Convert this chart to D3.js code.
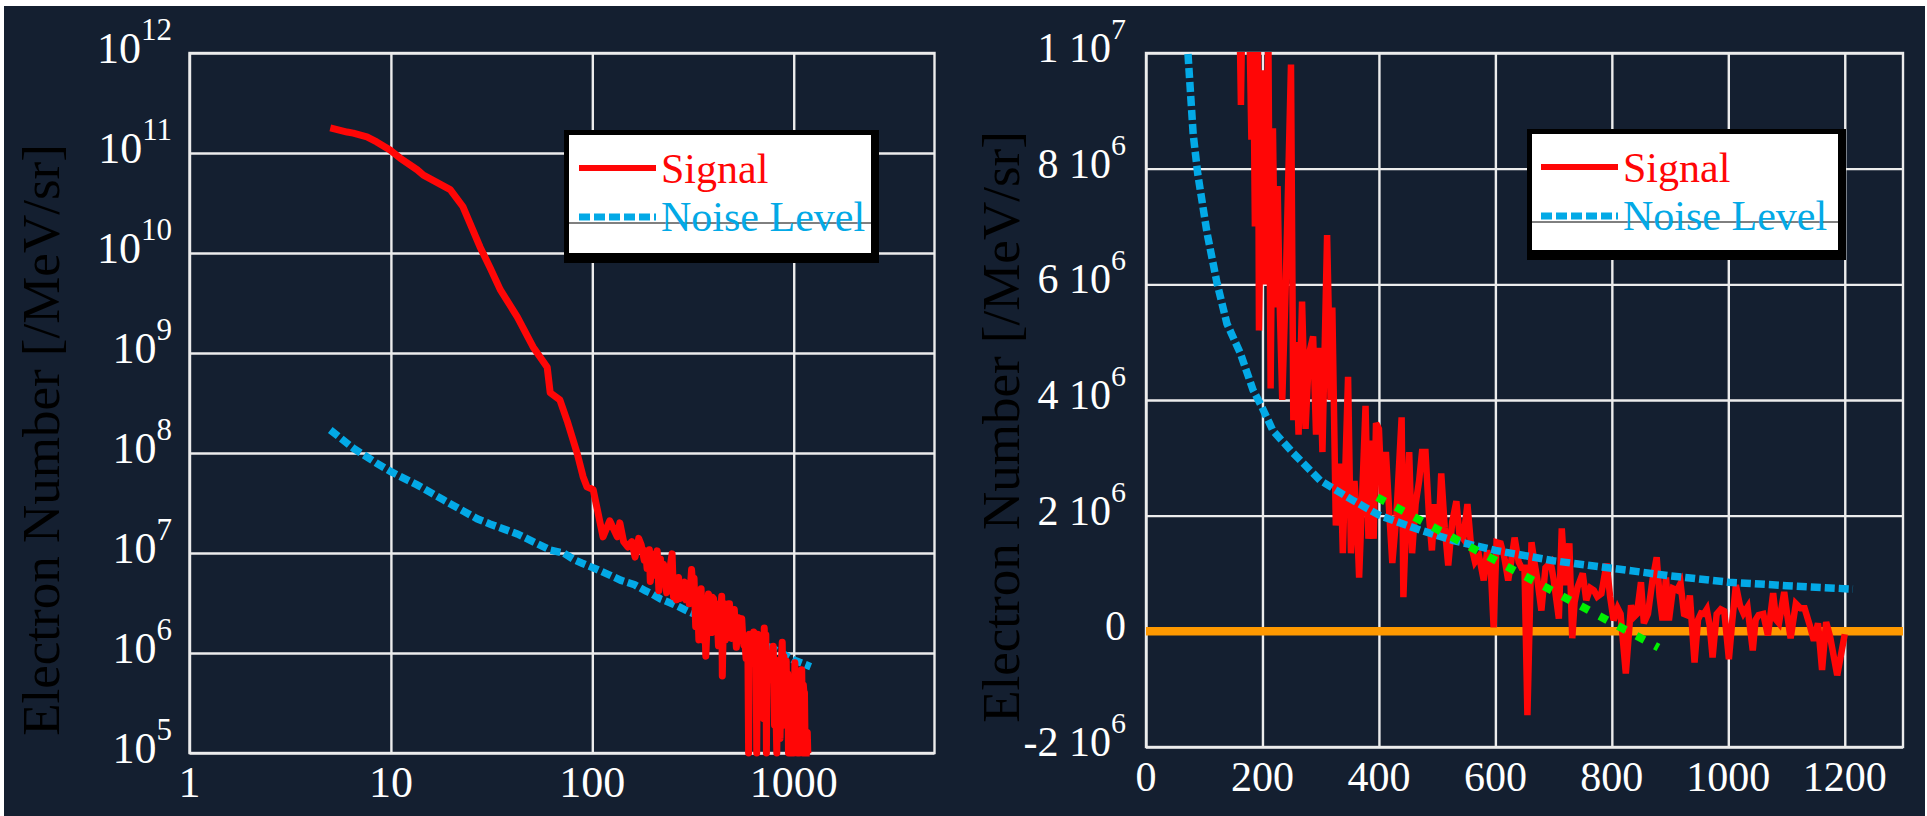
<!DOCTYPE html>
<html>
<head>
<meta charset="utf-8">
<script src="https://cdn.jsdelivr.net/npm/d3@7"></script>
<style>
  body { margin: 0; background: #ffffff; }
  svg { display: block; }
</style>
</head>
<body>
<div id="chart"></div>
<script>
// ---- data ----
const MEGA = 1e6;

// signal, smooth low-energy part (MeV, electrons/MeV/sr)
const signalLowE = [5, 6.06, 6.5, 7.6, 8.5, 9.9, 11.1, 13.5, 14.5, 19.7, 22.8, 27.7, 31, 34.9, 42.4,
  50.8, 59.7, 61.8, 69, 75, 84, 90, 94, 101, 106, 113, 122, 133, 137, 143];
const signalLowN = [1.78e11, 1.62e11, 1.58e11, 1.45e11, 1.29e11, 1.07e11, 8.9e10, 6.8e10, 6.0e10, 4.3e10,
  2.9e10, 1.15e10, 7.2e9, 4.3e9, 2.3e9, 1.15e9, 7.2e8, 4.0e8, 3.4e8, 2.1e8, 1.0e8, 5.8e7, 4.6e7, 4.3e7,
  2.7e7, 1.45e7, 2.1e7, 1.45e7, 2.0e7, 1.3e7];

// signal, noisy high-energy part (MeV, millions of electrons/MeV/sr)
const signalHighE = [150, 157, 163, 170, 175, 181, 184, 187, 192, 194, 200, 205, 210, 214, 218, 222, 226, 230,
  234, 240, 249, 253, 257, 262, 268, 274, 280, 287, 292, 298, 303, 311, 317, 320, 326, 334, 338, 347, 352, 358,
  362, 366, 377, 382, 386, 391, 395, 400, 405, 412, 418, 423, 430, 439, 442, 448, 452, 457, 463, 469, 474, 480,
  486, 491, 496, 502, 507, 513, 519, 526, 533, 538, 545, 552, 558, 565, 572, 580, 586, 592, 597, 602, 609, 615,
  622, 627, 633, 640, 645, 650, 655, 662, 667, 672, 679, 686, 695, 700, 709, 714, 720, 727, 732, 736, 741, 750,
  756, 763, 769, 775, 782, 791, 797, 803, 810, 815, 824, 833, 838, 843, 850, 855, 862, 870, 877, 882, 887, 893,
  898, 905, 912, 918, 924, 929, 934, 942, 948, 953, 958, 963, 968, 973, 980, 987, 993, 1001, 1007, 1013, 1020,
  1026, 1033, 1042, 1047, 1052, 1060, 1068, 1077, 1082, 1087, 1096, 1101, 1107, 1116, 1124, 1131, 1140, 1147,
  1154, 1161, 1168, 1175, 1187, 1200];
const signalHighM = [11.5, 13, 9.1, 14, 12, 8.5, 10.5, 7.0, 10.8, 5.2, 9.7, 6.0, 10.5, 4.2, 8.7, 5.6, 7.7, 5.5,
  4.0, 6.0, 9.8, 3.65, 5.0, 3.4, 5.7, 3.5, 4.8, 5.1, 3.4, 4.9, 3.1, 6.85, 4.0, 5.6, 1.83, 2.9, 1.35, 4.4, 1.35, 2.6,
  2.0, 0.93, 3.9, 1.6, 3.3, 1.6, 3.6, 3.5, 2.3, 3.1, 2.0, 1.18, 2.0, 3.7, 0.59, 2.3, 3.1, 1.35, 2.2, 2.6, 3.1, 3.1,
  2.0, 1.4, 2.2, 1.6, 2.73, 1.8, 1.14, 1.9, 2.25, 1.7, 1.6, 2.2, 1.5, 1.2, 1.3, 0.88, 1.4, 1.1, 0.07, 1.54, 1.52, 1.3,
  0.88, 1.2, 1.62, 1.2, 1.1, 1.1, -1.45, 1.54, 1.2, 0.9, 0.36, 1.1, 1.19, 0.9, 0.22, 1.78, 0.8, 1.52, -0.12, 0.5, 0.76, 1.0,
  0.54, 0.75, 0.71, 0.6, 0.65, 1.17, 0.6, 0.19, 0.4, 0.3, -0.73, 0.45, 0.25, 0.3, 0.85, 0.14, 0.3, 0.9, 1.28, 0.6, 0.19, 0.93,
  0.19, 0.74, 0.71, 0.83, 0.3, 0.28, 0.62, -0.54, 0.2, 0.31, 0.3, 0.38, 0.1, -0.45, 0.3, 0.38, 0.35, -0.48, 0.2, 0.8, 0.45,
  0.31, 0.42, -0.33, 0.2, 0.28, 0.3, -0.07, 0.66, 0.2, 0.14, 0.68, 0.3, -0.12, 0.48, 0.4, 0.4, 0.1, -0.16,
  0.14, -0.67, 0.16, -0.1, -0.76, -0.05];

// noise level
const noiseE = [5, 6.5, 8.5, 10, 13.5, 18.2, 26.8, 31, 42.4, 61.8, 72, 81, 89, 105, 122, 139, 162, 184, 198,
  218, 253, 299, 356, 402, 471, 528, 600, 700, 800, 900, 1000, 1100, 1214];
const noiseN = [1.7e8, 1.12e8, 7.9e7, 6.5e7, 4.8e7, 3.4e7, 2.2e7, 1.95e7, 1.55e7, 1.07e7, 1.0e7, 8.6e6, 7.9e6,
  6.88e6, 6.02e6, 5.32e6, 4.81e6, 4.17e6, 3.9e6, 3.47e6, 3.08e6, 2.61e6, 2.26e6, 2.0e6, 1.75e6, 1.57e6, 1.40e6,
  1.22e6, 1.09e6, 0.96e6, 0.85e6, 0.79e6, 0.73e6];

// linear fit drawn on the right panel
const fitE = [397, 880];
const fitN = [2.32e6, -0.28e6];

// axes
const leftXTicks = [1, 10, 100, 1000];
const leftYTicks = [1e5, 1e6, 1e7, 1e8, 1e9, 1e10, 1e11, 1e12];
const rightXTicks = [0, 200, 400, 600, 800, 1000, 1200];
const rightYTicks = [-2e6, 0, 2e6, 4e6, 6e6, 8e6, 1e7];
const yTitle = "Electron Number [/MeV/sr]";
const legendNames = ["Signal", "Noise Level"];

const signal = signalLowE.map((e, i) => ({e: e, n: signalLowN[i]}))
  .concat(signalHighE.map((e, i) => ({e: e, n: signalHighM[i] * MEGA})));
const noise = noiseE.map((e, i) => ({e: e, n: noiseN[i]}));
const fit = fitE.map((e, i) => ({e: e, n: fitN[i]}));

// colours
const RED = "#ff0606", BLUE = "#03a9e6", GREEN = "#00f000", ORANGE = "#ff9900";
const GRID = "#ececec", BG = "#141f30";
const SERIF = "'Liberation Serif', Tinos, 'Times New Roman', 'DejaVu Serif', serif";

var svg = d3.select("#chart").append("svg")
  .attr("width", 1927).attr("height", 816)
  .attr("font-family", SERIF)
  .style("font-family", SERIF);

svg.append("rect").attr("x", 4).attr("y", 6).attr("width", 1921).attr("height", 810).attr("fill", BG);

var defs = svg.append("defs");

function grid(g, x, y, xv, yv) {
  g.append("g").attr("transform", "translate(0," + y.range()[0] + ")")
    .call(d3.axisBottom(x).tickValues(xv).tickSize(-(y.range()[0] - y.range()[1])).tickFormat(""));
  g.append("g").attr("transform", "translate(" + x.range()[0] + ",0)")
    .call(d3.axisLeft(y).tickValues(yv).tickSize(-(x.range()[1] - x.range()[0])).tickFormat(""));
  g.selectAll(".domain").remove();
  g.selectAll(".tick line").attr("stroke", GRID).attr("stroke-width", 2.4);
  g.append("rect")
    .attr("x", x.range()[0]).attr("y", y.range()[1])
    .attr("width", x.range()[1] - x.range()[0]).attr("height", y.range()[0] - y.range()[1])
    .attr("fill", "none").attr("stroke", GRID).attr("stroke-width", 2.4);
}

// "10^n" on the log axis, "m 10^n" on the linear one
function sciLabel(g, v, xpos, ypos, big, small, withMant) {
  var t = g.append("text").attr("x", xpos).attr("y", ypos)
    .attr("text-anchor", "end").attr("fill", "#ffffff").attr("font-size", big);
  if (v === 0) { t.text("0"); return; }
  var ex = Math.floor(Math.log10(Math.abs(v)) + 1e-9);
  var mant = Math.round(v / Math.pow(10, ex));
  if (withMant) t.append("tspan").text(mant + " ");
  t.append("tspan").text("10");
  t.append("tspan").attr("font-size", small).attr("dy", -23).text(ex);
}

function legend(g, bx, by, bw, bh, lx, tx) {
  g.append("rect").attr("x", bx).attr("y", by).attr("width", bw).attr("height", bh).attr("fill", "#000");
  g.append("rect").attr("x", bx + 5).attr("y", by + 5).attr("width", bw - 13).attr("height", bh - 15).attr("fill", "#fff");
  g.append("line").attr("x1", bx + 5).attr("x2", bx + bw - 8).attr("y1", by + 93).attr("y2", by + 93)
    .attr("stroke", "#000").attr("stroke-width", 1);
  g.append("line").attr("x1", lx).attr("x2", lx + 77).attr("y1", by + 38).attr("y2", by + 38)
    .attr("stroke", RED).attr("stroke-width", 6);
  g.append("line").attr("x1", lx).attr("x2", lx + 77).attr("y1", by + 87).attr("y2", by + 87)
    .attr("stroke", BLUE).attr("stroke-width", 7).attr("stroke-dasharray", "11,4");
  g.append("text").attr("x", tx).attr("y", by + 53).attr("fill", RED).attr("font-size", 42).text(legendNames[0]);
  g.append("text").attr("x", tx).attr("y", by + 101).attr("fill", BLUE).attr("font-size", 42).text(legendNames[1]);
}

// ================= left panel: log-log =================
var xL = d3.scaleLog().domain([1, 5000]).range([189.5, 934.5]);
var yL = d3.scaleLog().domain([1e5, 1e12]).range([753, 53]);
var gL = svg.append("g");
grid(gL, xL, yL, leftXTicks, leftYTicks);

defs.append("clipPath").attr("id", "clipL").append("rect")
  .attr("x", 189.5).attr("y", 53).attr("width", 745).attr("height", 708);

var lineL = d3.line()
  .x(d => xL(d.e))
  .y(d => yL(Math.max(d.n, 1e5)));

gL.append("path").datum(noise).attr("clip-path", "url(#clipL)")
  .attr("d", lineL).attr("fill", "none").attr("stroke", BLUE)
  .attr("stroke-width", 7.5).attr("stroke-dasharray", "10,4");
gL.append("path").datum(signal).attr("clip-path", "url(#clipL)")
  .attr("d", lineL).attr("fill", "none").attr("stroke", RED)
  .attr("stroke-width", 7).attr("stroke-linejoin", "round");

leftYTicks.forEach(v => sciLabel(gL, v, 172, yL(v) + 10, 44, 31, false));
leftXTicks.forEach(v => {
  gL.append("text").attr("x", xL(v)).attr("y", 797).attr("text-anchor", "middle")
    .attr("fill", "#fff").attr("font-size", 44).text(v);
});
gL.append("text").attr("transform", "translate(59,440) rotate(-90)")
  .attr("text-anchor", "middle").attr("fill", "#000").attr("font-size", 53).text(yTitle);

legend(gL, 564, 130, 315, 133, 579, 661);

// ================= right panel: linear =================
var xR = d3.scaleLinear().domain([0, 1300]).range([1146, 1903]);
var yR = d3.scaleLinear().domain([-2e6, 1e7]).range([747, 53]);
var gR = svg.append("g");
grid(gR, xR, yR, rightXTicks, rightYTicks);

defs.append("clipPath").attr("id", "clipR").append("rect")
  .attr("x", 1146).attr("y", 52).attr("width", 757).attr("height", 700);

var lineR = d3.line().x(d => xR(d.e)).y(d => yR(d.n));

gR.append("line")
  .attr("x1", xR.range()[0]).attr("x2", xR.range()[1])
  .attr("y1", yR(0)).attr("y2", yR(0))
  .attr("stroke", ORANGE).attr("stroke-width", 8.5);

gR.append("path").datum(signal.filter(d => d.e >= 100)).attr("clip-path", "url(#clipR)")
  .attr("d", lineR).attr("fill", "none").attr("stroke", RED)
  .attr("stroke-width", 6.5).attr("stroke-linejoin", "miter");
gR.append("path").datum(noise.filter(d => d.e >= 60)).attr("clip-path", "url(#clipR)")
  .attr("d", lineR).attr("fill", "none").attr("stroke", BLUE)
  .attr("stroke-width", 7.5).attr("stroke-dasharray", "10,4");
gR.append("path").datum(fit).attr("clip-path", "url(#clipR)")
  .attr("d", lineR).attr("fill", "none").attr("stroke", GREEN)
  .attr("stroke-width", 8).attr("stroke-dasharray", "9,12");

rightYTicks.forEach(v => sciLabel(gR, v, 1126, yR(v) + 9, 42, 30, true));
rightXTicks.forEach(v => {
  gR.append("text").attr("x", xR(v)).attr("y", 791).attr("text-anchor", "middle")
    .attr("fill", "#fff").attr("font-size", 42).text(v);
});
gR.append("text").attr("transform", "translate(1019,427) rotate(-90)")
  .attr("text-anchor", "middle").attr("fill", "#000").attr("font-size", 53).text(yTitle);

legend(gR, 1527, 129, 319, 131, 1541, 1623);
</script>
</body>
</html>
